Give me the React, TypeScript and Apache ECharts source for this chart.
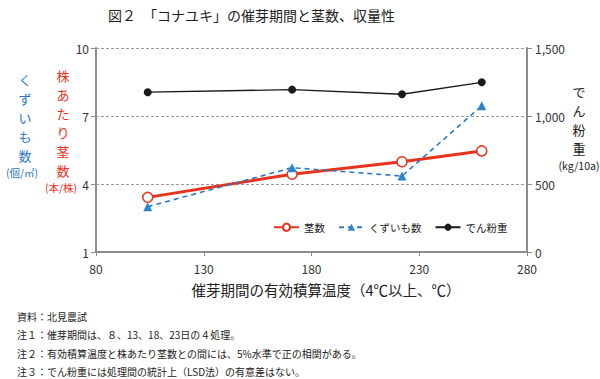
import React, { useEffect, useRef } from "react";
import * as echarts from "echarts";

const title = "図２　「コナユキ」の催芽期間と茎数、収量性";
const xAxisName = "催芽期間の有効積算温度（4℃以上、℃）";
const seriesNames = ["茎数", "くずいも数", "でん粉重"];
const temps = [104, 171, 222, 259];
const stems = [3.41, 4.43, 4.98, 5.46];
const tubers = [3.0, 4.72, 4.35, 7.45];
const starch = [1175, 1194, 1160, 1248];
const xTicks = { min: 80, max: 280, interval: 50 };
const leftTicks = { min: 1, max: 10, interval: 3 };
const rightTicks = { min: 0, max: 1500, interval: 500 };
const blueTitle = ["く", "ず", "い", "も", "数"];
const blueUnit = "(個/㎡)";
const redTitle = ["株", "あ", "た", "り", "茎", "数"];
const redUnit = "(本/株)";
const rightTitle = ["で", "ん", "粉", "重"];
const rightUnit = "(kg/10a)";
const notes = [
  "資料：北見農試",
  "注１：催芽期間は、８、13、18、23日の４処理。",
  "注２：有効積算温度と株あたり茎数との間には、5%水準で正の相関がある。",
  "注３：でん粉重には処理間の統計上（LSD法）の有意差はない。",
];

const FONT = "'Noto Sans CJK JP', 'Noto Sans', sans-serif";
const RED = "#e8321e";
const BLUE = "#2e78c2";
const AXIS = "#8c8c8c";

function vtext(chars: string[], x: number, yTop: number, color: string, size = 13, step = 19): any[] {
  return chars.map((c, i) => ({
    type: "text", x, y: yTop + i * step,
    style: { text: c, fontSize: size, fontFamily: FONT, fill: color, align: "center", verticalAlign: "middle" },
  }));
}

export default function App() {
  const ref = useRef<HTMLDivElement>(null);
  useEffect(() => {
    if (!ref.current) return;
    const chart = echarts.init(ref.current, undefined, { renderer: "svg" });
    const pair = (ys: number[]) => temps.map((t, i) => [t, ys[i]]);
    const graphic: any[] = [
      {
        type: "text", x: 108, y: 15,
        style: { text: title, fontSize: 14, fontFamily: FONT, fill: "#222", verticalAlign: "middle" },
      },
      {
        type: "text", x: 326, y: 289,
        style: { text: xAxisName, fontSize: 14.5, fontFamily: FONT, fill: "#222", align: "center", verticalAlign: "middle" },
      },
      ...vtext(blueTitle, 25, 79, BLUE),
      {
        type: "text", x: 22, y: 172,
        style: { text: blueUnit, fontSize: 10.5, fontFamily: FONT, fill: BLUE, align: "center", verticalAlign: "middle" },
      },
      ...vtext(redTitle, 63, 75, RED),
      {
        type: "text", x: 61, y: 187,
        style: { text: redUnit, fontSize: 10.5, fontFamily: FONT, fill: RED, align: "center", verticalAlign: "middle" },
      },
      ...vtext(rightTitle, 579, 91, "#222"),
      {
        type: "text", x: 579, y: 165,
        style: { text: rightUnit, fontSize: 10.5, fontFamily: FONT, fill: "#222", align: "center", verticalAlign: "middle" },
      },
      ...notes.map((n, i) => ({
        type: "text", x: 17, y: 316 + i * 18.5,
        style: { text: n, fontSize: 10, fontFamily: FONT, fill: "#222", verticalAlign: "middle" },
      })),
    ];
    chart.setOption({
      animation: false,
      backgroundColor: "#fff",
      textStyle: { fontFamily: FONT },
      grid: { left: 96, right: 73, top: 48, bottom: 127 },
      graphic,
      legend: {
        left: 268, top: 217, itemWidth: 25, itemHeight: 9, itemGap: 13,
        textStyle: { fontSize: 10.5, color: "#222", fontFamily: FONT },
        data: seriesNames,
      },
      xAxis: {
        type: "value", ...xTicks,
        axisLine: { show: true, lineStyle: { color: AXIS, width: 2 } },
        axisTick: { show: true, length: 4, lineStyle: { color: AXIS } },
        axisLabel: { fontSize: 12, color: "#333", margin: 10 },
        splitLine: { show: false },
      },
      yAxis: [
        {
          type: "value", ...leftTicks, position: "left",
          axisLine: { show: true, lineStyle: { color: AXIS, width: 2 } },
          axisTick: { show: true, length: 5, lineStyle: { color: AXIS } },
          axisLabel: { fontSize: 12, color: "#333", margin: 7 },
          splitLine: { show: true, lineStyle: { color: "#999", type: [3, 2], width: 1 } },
        },
        {
          type: "value", ...rightTicks, position: "right",
          axisLine: { show: true, lineStyle: { color: AXIS, width: 2 } },
          axisTick: { show: true, length: 5, lineStyle: { color: AXIS } },
          axisLabel: {
            fontSize: 12, color: "#333", margin: 8,
            formatter: (v: number) => v.toLocaleString("en-US"),
          },
          splitLine: { show: false },
        },
      ],
      series: [
        {
          name: seriesNames[0], type: "line", yAxisIndex: 0, data: pair(stems),
          symbol: "circle", symbolSize: 10,
          lineStyle: { color: RED, width: 3 },
          itemStyle: { color: "#fff", borderColor: RED, borderWidth: 1.5 },
          z: 3,
        },
        {
          name: seriesNames[1], type: "line", yAxisIndex: 0, data: pair(tubers),
          symbol: "triangle", symbolSize: 9,
          lineStyle: { color: BLUE, width: 1.6, type: [5, 4] },
          itemStyle: { color: "#2a86d0", borderWidth: 0 },
          z: 4,
        },
        {
          name: seriesNames[2], type: "line", yAxisIndex: 1, data: pair(starch),
          symbol: "circle", symbolSize: 8,
          lineStyle: { color: "#1a1a1a", width: 1.3 },
          itemStyle: { color: "#1a1a1a" },
          z: 2,
        },
      ],
    });
    return () => chart.dispose();
  }, []);
  return <div ref={ref} style={{ width: 600, height: 379, position: "absolute", left: 0, top: 0 }} />;
}
